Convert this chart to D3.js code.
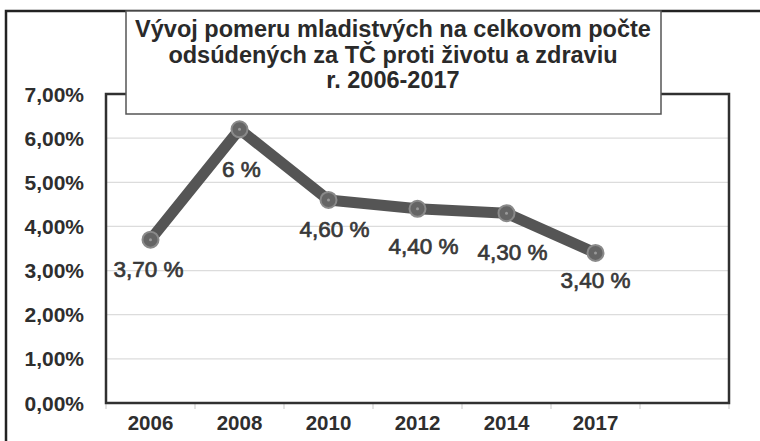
<!DOCTYPE html>
<html>
<head>
<meta charset="utf-8">
<script src="https://cdn.jsdelivr.net/npm/d3@7"></script>
<style>
  body { margin: 0; background: #fff; }
  svg { display: block; font-family: "Liberation Sans", Arial, sans-serif; }
</style>
</head>
<body>
<svg id="chart" width="760" height="441"></svg>
<script>
// data
const years = ["2006", "2008", "2010", "2012", "2014", "2017", ""];
const shares = [3.7, 6.2, 4.6, 4.4, 4.3, 3.4];
const pointLabels = ["3,70 %", "6 %", "4,60 %", "4,40 %", "4,30 %", "3,40 %"];
const yTicks = [0, 1, 2, 3, 4, 5, 6, 7];
const titleLines = [
    "Vývoj pomeru mladistvých na celkovom počte",
    "odsúdených za TČ proti životu a zdraviu",
    "r. 2006-2017"
];

const svg = d3.select("#chart");

// outer frame (runs off the picture right and bottom)
svg.append("rect")
    .attr("x", 6).attr("y", 11)
    .attr("width", 800).attr("height", 500)
    .attr("fill", "none")
    .attr("stroke", "#222")
    .attr("stroke-width", 2.5);

const plot = { left: 106, top: 94, right: 729, bottom: 403 };

let xScale = d3.scaleBand()
    .domain(years)
    .range([plot.left, plot.right]);

let yScale = d3.scaleLinear()
    .domain([0, 7])
    .range([plot.bottom, plot.top]);

// gridlines
svg.append("g")
    .selectAll("line")
    .data(yTicks)
    .enter()
    .append("line")
        .attr("x1", plot.left).attr("x2", plot.right)
        .attr("y1", d => yScale(d)).attr("y2", d => yScale(d))
        .attr("stroke", "#dcdcdc")
        .attr("stroke-width", 1.2);

// y labels
svg.append("g")
    .selectAll("text")
    .data(yTicks)
    .enter()
    .append("text")
        .attr("x", 84)
        .attr("y", d => yScale(d) + 7.5)
        .attr("text-anchor", "end")
        .attr("font-size", 21)
        .attr("font-weight", "bold")
        .attr("fill", "#2e2e2e")
        .text(d => d.toFixed(2).replace(".", ",") + "%");

// x axis: ticks at the band edges, labels centred
let xaxis = d3.axisBottom(xScale).tickSize(0).tickPadding(12);
let gx = svg.append("g")
    .attr("transform", "translate(0," + plot.bottom + ")")
    .call(xaxis);
gx.select(".domain").remove();
gx.selectAll("text")
    .attr("font-size", 20.5)
    .attr("font-weight", "bold")
    .attr("fill", "#2e2e2e")
    .attr("font-family", "Liberation Sans, Arial, sans-serif");

svg.append("g")
    .selectAll("line")
    .data(years.concat(["end"]))
    .enter()
    .append("line")
        .attr("x1", (d, i) => plot.left + i * xScale.step())
        .attr("x2", (d, i) => plot.left + i * xScale.step())
        .attr("y1", plot.bottom).attr("y2", plot.bottom + 6)
        .attr("stroke", "#d0d0d0")
        .attr("stroke-width", 1.2);

// plot frame
svg.append("rect")
    .attr("x", plot.left).attr("y", plot.top)
    .attr("width", plot.right - plot.left)
    .attr("height", plot.bottom - plot.top)
    .attr("fill", "none")
    .attr("stroke", "#303030")
    .attr("stroke-width", 2.5);

// line
const cx = i => xScale(years[i]) + xScale.bandwidth() / 2;
let line = d3.line()
    .x((d, i) => cx(i))
    .y(d => yScale(d));

svg.append("path")
    .datum(shares)
    .attr("d", line)
    .attr("fill", "none")
    .attr("stroke", "#555")
    .attr("stroke-width", 11)
    .attr("stroke-linejoin", "round");

// markers
let marks = svg.append("g")
    .selectAll("g")
    .data(shares)
    .enter()
    .append("g")
    .attr("transform", (d, i) => "translate(" + cx(i) + "," + yScale(d) + ")");
marks.append("circle")
    .attr("r", 8)
    .attr("fill", "#656565")
    .attr("stroke", "#8a8a8a")
    .attr("stroke-width", 2);
marks.append("circle")
    .attr("r", 1.5)
    .attr("fill", "#999");

// point labels, placed under the markers
const nudge = [[-2, 37], [2, 48], [6, 37], [6, 45], [6, 47], [0, 35]];
svg.append("g")
    .selectAll("text")
    .data(pointLabels)
    .enter()
    .append("text")
        .attr("x", (d, i) => cx(i) + nudge[i][0])
        .attr("y", (d, i) => yScale(shares[i]) + nudge[i][1])
        .attr("text-anchor", "middle")
        .attr("font-size", 22.5)
        .attr("fill", "#383838")
        .attr("stroke", "#383838")
        .attr("stroke-width", 0.7)
        .text(d => d);

// title box
svg.append("rect")
    .attr("x", 126).attr("y", 11)
    .attr("width", 535).attr("height", 103)
    .attr("fill", "#fff")
    .attr("stroke", "#555")
    .attr("stroke-width", 1.5);

svg.append("g")
    .selectAll("text")
    .data(titleLines)
    .enter()
    .append("text")
        .attr("x", 393)
        .attr("y", (d, i) => 37 + i * 25.5)
        .attr("text-anchor", "middle")
        .attr("font-size", 23.5)
        .attr("font-weight", "bold")
        .attr("fill", "#2a2a2a")
        .text(d => d);
</script>
</body>
</html>
